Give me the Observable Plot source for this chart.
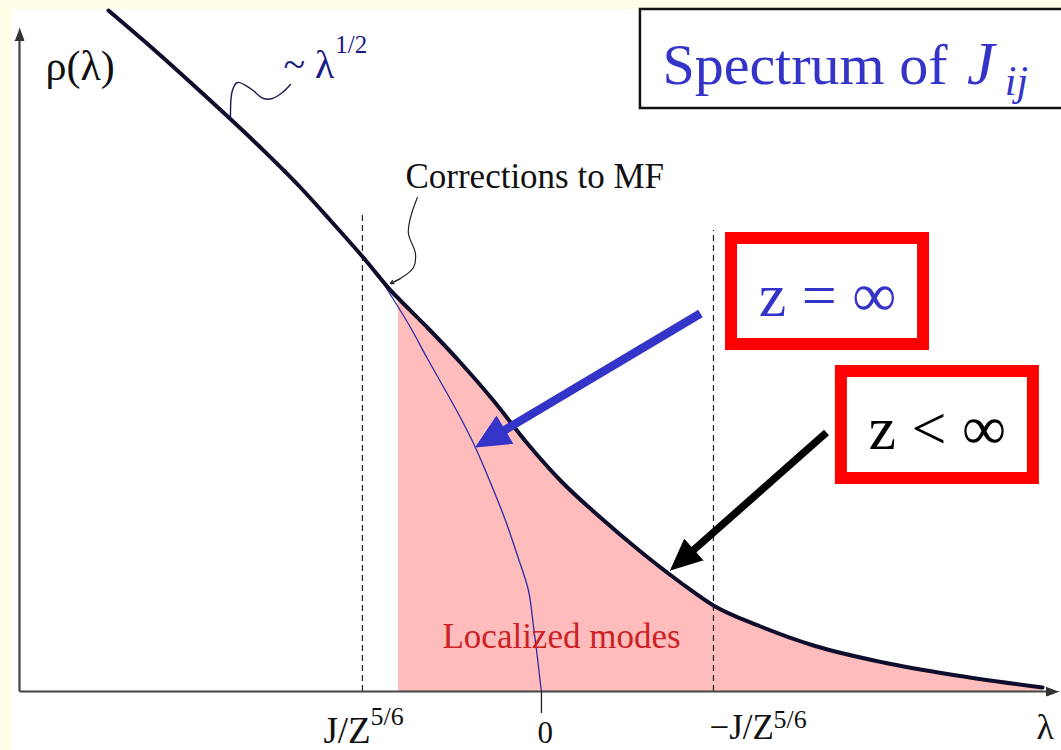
<!DOCTYPE html>
<html>
<head>
<meta charset="utf-8">
<script src="https://cdn.jsdelivr.net/npm/d3@7"></script>
<script src="https://cdn.jsdelivr.net/npm/@observablehq/plot@0.6"></script>
<style>
  html, body { margin: 0; padding: 0; width: 1061px; height: 750px; overflow: hidden; background: #fffde6; }
  #sheet { position: absolute; left: 12px; top: 9px; right: 0; bottom: 0; background: #ffffff; }
  #chart { position: absolute; left: 0; top: 0; }
</style>
</head>
<body>
<div id="sheet"></div>
<div id="chart"></div>
<script>
// Density of states rho(lambda) of the coupling matrix J_ij (finite connectivity z)
const curveLambda = [-2.467, -2.228, -1.943, -1.601, -1.373, -1.202, -1.020, -0.843, -0.815, -0.650, -0.462, -0.274, -0.080, 0.108, 0.336, 0.564, 0.792, 0.980, 1.248, 1.550, 1.949, 2.330, 2.855];
const curveRho    = [ 6.81,   6.45,   6.00,   5.44,   5.04,   4.71,   4.35,   3.98,   3.93,   3.64,   3.29,   2.91,   2.48,  2.11,  1.74,  1.40,  1.09,  0.86,  0.65,  0.46,  0.29,  0.17,  0.04];

// Mean-field (z = infinity) semicircle edge
const mfLambda = [-0.946, -0.843, -0.746, -0.650, -0.547, -0.462, -0.387, -0.291, -0.205, -0.137, -0.074, -0.046, -0.023, -0.006, 0];
const mfRho    = [ 4.20,   3.92,   3.64,   3.33,   3.01,   2.74,   2.48,   2.09,   1.71,   1.36,   1.01,   0.66,   0.34,   0.08,  0];

// Localized tail starts here
const localizedFrom = -0.815;

// Tick positions and labels on the lambda axis
const tickLambda = [-1.02, 0, 0.98];
const tickBase   = ["J/Z", "0", "\u2212J/Z"];
const tickExp    = ["5/6", "", "5/6"];

// Dashed guides at +-J/Z^{5/6}
const guideLambda = [-1.02, 0.98];
const guideTop    = [4.78, 4.61];

// Leader squiggle for the ~lambda^{1/2} note
const sqrtLeadLambda = [-1.772, -1.761, -1.732, -1.658, -1.584, -1.533, -1.476, -1.430];
const sqrtLeadRho    = [ 5.74,   6.01,   6.09,   6.03,   5.93,   5.93,   5.99,   6.07];

// Leader for the "Corrections to MF" note
const corrLeadLambda = [-0.707, -0.746, -0.758, -0.718, -0.729, -0.803, -0.860];
const corrLeadRho    = [ 4.94,   4.74,   4.58,   4.38,   4.24,   4.13,   4.08];

// Pointer arrows: [from lambda, from rho, to lambda, to rho]
const blueArrow  = [0.906, 3.78, -0.376, 2.44];
const blackArrow = [1.624, 2.59, 0.735, 1.21];

// Boxes [x1, x2, y1, y2]
const titleBox = [0.564, 3.20, 5.83, 6.82];
const boxInf   = [1.083, 2.177, 3.47, 4.53];
const boxFin   = [1.709, 2.803, 2.13, 3.20];

const W = 1061, H = 750;
const margin = {left: 19, right: 3, top: 10, bottom: 59};
const xDomain = [-2.974, 2.946];
const yDomain = [0, 6.81];
const yArrowTop = 6.63;

const serif = "'Liberation Serif', 'Times New Roman', serif";
const blue = "#3434c8";
const ink = "#0e0e2c";

const curve = curveLambda.map((x, i) => ({x, y: curveRho[i]}));
const mf = mfLambda.map((x, i) => ({x, y: mfRho[i]}));
const tail = curve.filter(d => d.x >= localizedFrom);
const sqrtLead = sqrtLeadLambda.map((x, i) => ({x, y: sqrtLeadRho[i]}));
const corrLead = corrLeadLambda.map((x, i) => ({x, y: corrLeadRho[i]}));
const ticks = tickLambda.map((x, i) => ({x, base: tickBase[i], exp: tickExp[i]}));
const guides = guideLambda.map((x, i) => ({x, top: guideTop[i]}));

// Pixel mapping mirrors the plot's own scales; used to shape arrowheads
const px = d3.scaleLinear(xDomain, [margin.left, W - margin.right]);
const py = d3.scaleLinear(yDomain, [H - margin.bottom, margin.top]);

// Shaft + filled triangular head for an arrow given in data coordinates
function arrow([x0, y0, x1, y1], len, half) {
  const X0 = px(x0), Y0 = py(y0), X1 = px(x1), Y1 = py(y1);
  const L = Math.hypot(X1 - X0, Y1 - Y0);
  const ux = (X1 - X0) / L, uy = (Y1 - Y0) / L;
  const bx = X1 - ux * len, by = Y1 - uy * len;
  const toData = (X, Y) => ({x: px.invert(X), y: py.invert(Y)});
  const end = toData(bx + ux * 2, by + uy * 2);
  return {
    shaft: {x1: x0, y1: y0, x2: end.x, y2: end.y},
    head: [toData(X1, Y1), toData(bx - uy * half, by + ux * half), toData(bx + uy * half, by - ux * half)]
  };
}
const bA = arrow(blueArrow, 34, 16);
const kA = arrow(blackArrow, 31, 14);
const yA = arrow([xDomain[0], 0, xDomain[0], yArrowTop], 12, 4.5);
const xA = arrow([xDomain[0], 0, xDomain[1], 0], 12, 4.5);

const boxRect = (b) => ({x1: b[0], x2: b[1], y1: b[2], y2: b[3]});

const txt = (data, o) => Plot.text(data, {fontFamily: serif, textAnchor: "start", lineAnchor: "bottom", ...o});
const tri = (pts, color) => Plot.line(pts, {x: "x", y: "y", fill: color, stroke: color, strokeWidth: 1, strokeLinejoin: "miter"});

const chart = Plot.plot({
  width: W,
  height: H,
  marginLeft: margin.left,
  marginRight: margin.right,
  marginTop: margin.top,
  marginBottom: margin.bottom,
  style: {background: "transparent", overflow: "visible"},
  x: {domain: xDomain, axis: null},
  y: {domain: yDomain, axis: null},
  marks: [
    // localized-mode tail
    Plot.areaY(tail, {x: "x", y: "y", fill: "#ffbcbc", curve: "monotone-x"}),
    // dashed guides
    Plot.ruleX(guides, {x: "x", y1: 0, y2: "top", stroke: "#222", strokeWidth: 1.2, strokeDasharray: "6,4"}),
    // mean-field density
    Plot.line(mf, {x: "x", y: "y", stroke: "#2b2ba6", strokeWidth: 1.3, curve: "catmull-rom"}),
    // finite-z density
    Plot.line(curve, {x: "x", y: "y", stroke: ink, strokeWidth: 4, curve: "monotone-x"}),
    // axes
    Plot.link([xA.shaft], {x1: "x1", y1: "y1", x2: "x2", y2: "y2", stroke: "#454545", strokeWidth: 2.2}),
    Plot.link([yA.shaft], {x1: "x1", y1: "y1", x2: "x2", y2: "y2", stroke: "#454545", strokeWidth: 2.2}),
    tri(xA.head, "#333"),
    tri(yA.head, "#333"),
    Plot.ruleX([0], {y1: 0, y2: -0.22, stroke: "#222", strokeWidth: 1.3}),
    // tick labels
    txt(ticks, {x: "x", y: -0.51, text: "base", dx: -39, fontSize: 37, fill: "#111", filter: d => d.x < -0.5}),
    txt(ticks, {x: "x", y: -0.33, text: "exp", dx: 8, fontSize: 26, fill: "#111", filter: d => d.x < -0.5}),
    txt(ticks, {x: "x", y: -0.51, text: "base", dx: -4, fontSize: 31, fill: "#111", filter: d => d.x === 0}),
    txt(ticks, {x: "x", y: -0.47, text: "base", dx: -4, fontSize: 35, fill: "#111", filter: d => d.x > 0.5}),
    txt(ticks, {x: "x", y: -0.36, text: "exp", dx: 60, fontSize: 26, fill: "#111", filter: d => d.x > 0.5}),
    txt(["\u03bb"], {x: 2.820, y: -0.47, fontSize: 36, fill: "#111"}),
    txt(["\u03c1(\u03bb)"], {x: -2.826, y: 6.12, fontSize: 42, fill: "#111"}),
    // ~lambda^{1/2} note
    Plot.line(sqrtLead, {x: "x", y: "y", stroke: "#1c1c50", strokeWidth: 1.4, curve: "catmull-rom"}),
    txt(["~ \u03bb"], {x: -1.470, y: 6.14, fontSize: 40, fill: "#1a1a86"}),
    txt(["1/2"], {x: -1.175, y: 6.39, fontSize: 25, fill: "#1a1a86"}),
    // corrections note
    Plot.line(corrLead, {x: "x", y: "y", stroke: "#222", strokeWidth: 1.2, curve: "catmull-rom"}),
    Plot.arrow([corrLead.slice(-2)], {x1: d => d[0].x, y1: d => d[0].y, x2: d => d[1].x, y2: d => d[1].y, stroke: "#222", strokeWidth: 1.2, headLength: 9}),
    txt(["Corrections to MF"], {x: -0.775, y: 5.04, fontSize: 35, fill: "#111"}),
    txt(["Localized modes"], {x: -0.564, y: 0.44, fontSize: 35, fill: "#cc2226"}),
    // pointer arrows
    Plot.link([bA.shaft], {x1: "x1", y1: "y1", x2: "x2", y2: "y2", stroke: blue, strokeWidth: 8.5}),
    tri(bA.head, blue),
    Plot.link([kA.shaft], {x1: "x1", y1: "y1", x2: "x2", y2: "y2", stroke: "#000", strokeWidth: 7.5}),
    tri(kA.head, "#000"),
    // boxes
    Plot.rect([boxRect(titleBox)], {x1: "x1", x2: "x2", y1: "y1", y2: "y2", fill: "#fff", stroke: "#111", strokeWidth: 2.5}),
    Plot.rect([boxRect(boxInf)], {x1: "x1", x2: "x2", y1: "y1", y2: "y2", fill: "#fff", stroke: "#ff0000", strokeWidth: 12}),
    Plot.rect([boxRect(boxFin)], {x1: "x1", x2: "x2", y1: "y1", y2: "y2", fill: "#fff", stroke: "#ff0000", strokeWidth: 12}),
    txt(["z = \u221e"], {x: 1.630, y: 3.76, fontSize: 62, fill: blue, textAnchor: "middle"}),
    txt(["z < \u221e"], {x: 2.256, y: 2.43, fontSize: 62, fill: "#000", textAnchor: "middle"}),
    // title
    txt(["Spectrum of"], {x: 0.689, y: 6.08, fontSize: 58, fill: blue}),
    txt(["J"], {x: 2.425, y: 6.08, fontSize: 62, fill: blue, fontStyle: "italic"}),
    txt(["ij"], {x: 2.640, y: 5.97, fontSize: 42, fill: blue, fontStyle: "italic"})
  ]
});

document.getElementById("chart").appendChild(chart);
</script>
</body>
</html>
